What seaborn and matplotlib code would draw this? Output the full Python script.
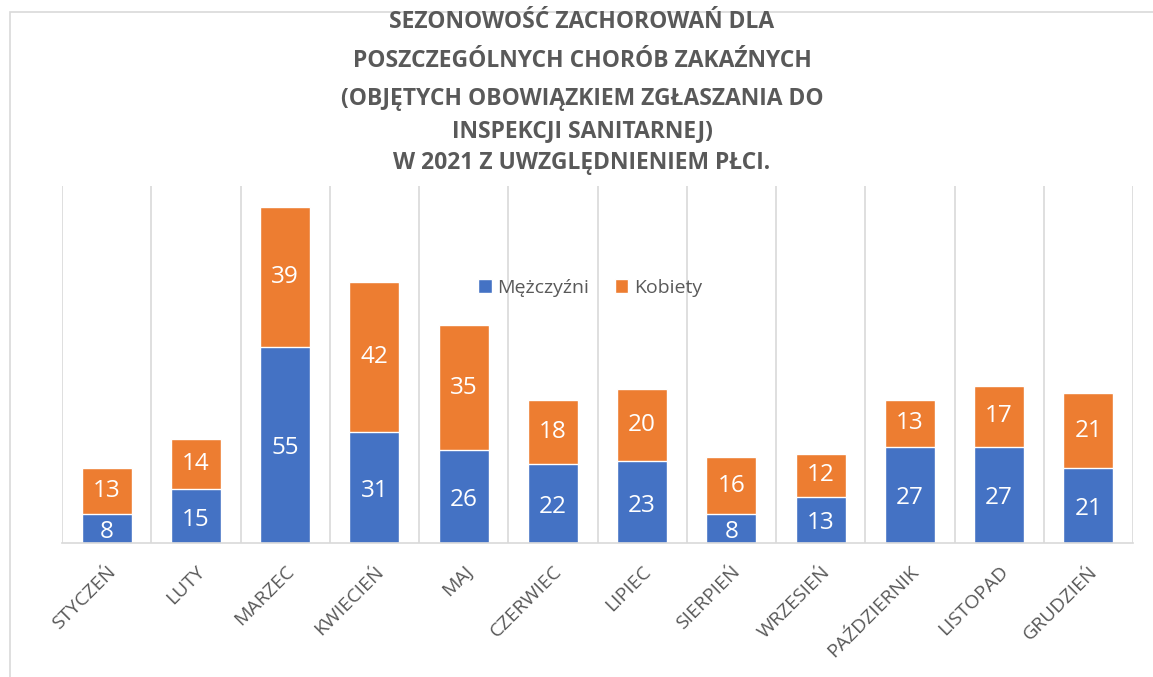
import pandas as pd
import seaborn as sns
import matplotlib.pyplot as plt
from matplotlib.patches import Rectangle

# dane
miesiace = ["STYCZEŃ", "LUTY", "MARZEC", "KWIECIEŃ", "MAJ", "CZERWIEC",
            "LIPIEC", "SIERPIEŃ", "WRZESIEŃ", "PAŹDZIERNIK", "LISTOPAD", "GRUDZIEŃ"]
mezczyzni = [8, 15, 55, 31, 26, 22, 23, 8, 13, 27, 27, 21]
kobiety = [13, 14, 39, 42, 35, 18, 20, 16, 12, 13, 17, 21]

title_lines = ["SEZONOWOŚĆ ZACHOROWAŃ DLA",
               "POSZCZEGÓLNYCH CHORÓB ZAKAŹNYCH",
               "(OBJĘTYCH OBOWIĄZKIEM ZGŁASZANIA DO",
               "INSPEKCJI SANITARNEJ)",
               "W 2021 Z UWZGLĘDNIENIEM PŁCI."]

df = pd.DataFrame({"miesiac": miesiace, "M": mezczyzni, "K": kobiety})
df["suma"] = df["M"] + df["K"]

sns.set_style("white")
plt.rcParams['font.family'] = ['Open Sans', 'DejaVu Sans']

blue = "#4472C4"
orange = "#ED7D31"
grey = "#595959"
grid = "#D9D9D9"

fig = plt.figure(figsize=(11.53, 6.77), dpi=100)
ax = fig.add_axes([62 / 1153, 134 / 677, 1071 / 1153, 357 / 677])

# stos: najpierw suma (pomarańczowe), potem mężczyźni na wierzchu
sns.barplot(data=df, x="miesiac", y="suma", color=orange, width=0.56,
            saturation=1, label="Kobiety", ax=ax)
sns.barplot(data=df, x="miesiac", y="M", color=blue, width=0.56,
            saturation=1, label="Mężczyźni", ax=ax)

for i, row in df.iterrows():
    ax.text(i, row["M"] / 2 - 1.0, str(row["M"]), ha="center", va="center",
            color="white", fontsize=17.5)
    ax.text(i, row["M"] + row["K"] / 2, str(row["K"]), ha="center", va="center",
            color="white", fontsize=17.5)

ax.set_ylim(0, 100)
ax.set_xlim(-0.5, len(miesiace) - 0.5)
ax.set_yticks([])
ax.set_xlabel("")
ax.set_ylabel("")

# pionowe linie siatki między kategoriami
for b in range(len(miesiace) + 1):
    ax.axvline(b - 0.5, color=grid, lw=1.2, zorder=0)
for s in ["top", "left", "right"]:
    ax.spines[s].set_visible(False)
ax.spines["bottom"].set_color(grid)
ax.spines["bottom"].set_linewidth(1.2)

ax.tick_params(axis="x", length=0, pad=14)
ax.set_xticks(range(len(miesiace)))
ax.set_xticklabels(miesiace, rotation=45, ha="right", rotation_mode="anchor",
                   color=grey, fontsize=14)

handles, labels = ax.get_legend_handles_labels()
leg = ax.legend(handles[::-1], ["Mężczyźni", "Kobiety"], loc="center",
                bbox_to_anchor=(0.493, 0.714), ncol=2, frameon=False,
                fontsize=14, handlelength=0.7, handleheight=0.7,
                handletextpad=0.3, columnspacing=1.3)
for t in leg.get_texts():
    t.set_color(grey)

ys = [22, 61, 99, 131, 163]
for line, y in zip(title_lines, ys):
    fig.text(582 / 1153, 1 - y / 677, line, ha="center", va="center",
             fontsize=16.5, fontweight="bold", color=grey)

fig.patches.append(Rectangle((10 / 1153, -0.1), 2, 1 - 12 / 677 + 0.1,
                             transform=fig.transFigure, fill=False,
                             edgecolor=grid, lw=1.2))

fig.savefig("out.png", dpi=100)
